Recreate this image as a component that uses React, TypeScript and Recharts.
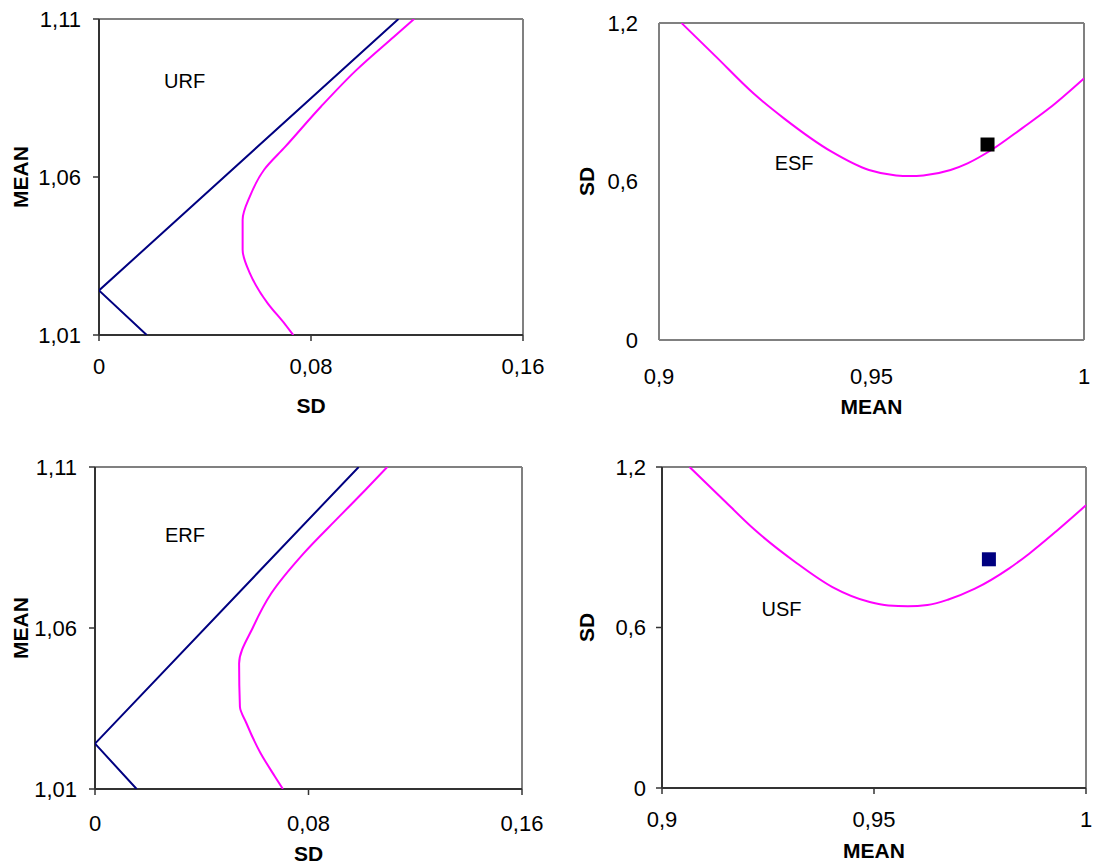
import React from 'react'
import { ScatterChart, Scatter, XAxis, YAxis, ReferenceDot, ReferenceLine } from 'recharts'

const FONT = '"Liberation Sans", Arial, sans-serif'
const NAVY = '#000080'
const MAGENTA = '#ff00ff'
const FRAME = '#808080'
const AXIS = '#333333'

// URF panel (top left): SD on x, MEAN on y
const urfLineSd = [0.018, 0, 0.113]
const urfLineMean = [1.01, 1.0241, 1.11]
const urfCurveSd = [0.0733, 0.0703, 0.0636, 0.0569, 0.0542, 0.0542, 0.0569, 0.0623, 0.0703, 0.0838, 0.0972, 0.1113, 0.1189]
const urfCurveMean = [1.01, 1.0133, 1.0201, 1.0296, 1.037, 1.0465, 1.0538, 1.0623, 1.0696, 1.0823, 1.0939, 1.1044, 1.11]

// ERF panel (bottom left)
const erfLineSd = [0.0156, 0, 0.0988]
const erfLineMean = [1.01, 1.0241, 1.11]
const erfCurveSd = [0.0704, 0.0674, 0.062, 0.0567, 0.0543, 0.054, 0.0593, 0.066, 0.0781, 0.0914, 0.1012, 0.1095]
const erfCurveMean = [1.01, 1.0139, 1.0212, 1.0305, 1.0356, 1.049, 1.0604, 1.0707, 1.0831, 1.0945, 1.1028, 1.11]

// ESF panel (top right): MEAN on x, SD on y
const esfMean = [0.9053, 0.9134, 0.9222, 0.9294, 0.9406, 0.9494, 0.9558, 0.959, 0.9622, 0.9686, 0.9726, 0.9782, 0.9854, 0.9918, 1.0]
const esfSd = [1.2, 1.0726, 0.9338, 0.8391, 0.7129, 0.6435, 0.623, 0.6208, 0.623, 0.6435, 0.6688, 0.7192, 0.8013, 0.877, 0.9905]
const esfPointMean = [0.9773]
const esfPointSd = [0.74]

// USF panel (bottom right)
const usfMean = [0.9065, 0.9138, 0.9218, 0.9314, 0.9402, 0.949, 0.9534, 0.958, 0.9626, 0.9674, 0.9738, 0.9818, 0.9866, 0.993, 1.0]
const usfSd = [1.2, 1.088, 0.966, 0.845, 0.751, 0.695, 0.682, 0.679, 0.684, 0.704, 0.745, 0.82, 0.876, 0.96, 1.057]
const usfPointMean = [0.9771]
const usfPointSd = [0.855]

const rfXTicks = [0, 0.08, 0.16]
const rfYTicks = [1.01, 1.06, 1.11]
const sfXTicks = [0.9, 0.95, 1]
const sfYTicks = [0, 0.6, 1.2]

const zip = (xs: number[], ys: number[]) => xs.map((x, i) => ({ x, y: ys[i] }))
const fmt = (v: number) => String(v).replace('.', ',')

type Series = { data: { x: number; y: number }[]; color: string; joint: any }

type PanelProps = {
  left: number
  top: number
  width: number
  height: number
  margin: { top: number; right: number; bottom: number; left: number }
  yWidth: number
  xHeight: number
  xDomain: [number, number]
  yDomain: [number, number]
  xTicks: number[]
  yTicks: number[]
  xTitle: string
  yTitle: string
  yTitleOffset: number
  tickSize: number
  xTickMargin: number
  yTickMargin: number
  axisColor: string
  series: Series[]
  marker?: { data: { x: number; y: number }[]; color: string }
  tag: { x: number; y: number; text: string }
}

const noDot = () => <g />

function Panel(p: PanelProps) {
  const titleStyle = { fontWeight: 'bold', fontSize: 21, fill: '#000', fontFamily: FONT }
  return (
    <div style={{ position: 'absolute', left: p.left, top: p.top }}>
      <ScatterChart width={p.width} height={p.height} margin={p.margin}>
        {/* plot area frame (top and right) */}
        <ReferenceLine y={p.yDomain[1]} stroke={FRAME} strokeWidth={2} />
        <ReferenceLine x={p.xDomain[1]} stroke={FRAME} strokeWidth={2} />
        <XAxis
          type="number"
          dataKey="x"
          domain={p.xDomain}
          ticks={p.xTicks}
          tickFormatter={fmt}
          allowDataOverflow
          height={p.xHeight}
          tickSize={p.tickSize}
          tickMargin={p.xTickMargin}
          tickLine={p.tickSize > 0 ? { stroke: p.axisColor, strokeWidth: 1.5 } : false}
          axisLine={{ stroke: p.axisColor, strokeWidth: 2 }}
          tick={{ fill: '#000', fontSize: 22, fontFamily: FONT }}
          label={{ value: p.xTitle, position: 'insideBottom', offset: 0, style: titleStyle }}
        />
        <YAxis
          type="number"
          dataKey="y"
          domain={p.yDomain}
          ticks={p.yTicks}
          tickFormatter={fmt}
          allowDataOverflow
          width={p.yWidth}
          tickSize={p.tickSize}
          tickMargin={p.yTickMargin}
          tickLine={p.tickSize > 0 ? { stroke: p.axisColor, strokeWidth: 1.5 } : false}
          axisLine={{ stroke: p.axisColor, strokeWidth: 2 }}
          tick={{ fill: '#000', fontSize: 22, fontFamily: FONT }}
          label={{
            value: p.yTitle,
            angle: -90,
            position: 'insideLeft',
            offset: p.yTitleOffset,
            style: { ...titleStyle, textAnchor: 'middle' },
          }}
        />
        {p.series.map((s, i) => (
          <Scatter
            key={i}
            data={s.data}
            fill={s.color}
            line={{ stroke: s.color, strokeWidth: 2 }}
            lineJointType={s.joint}
            shape={noDot}
            isAnimationActive={false}
          />
        ))}
        {p.marker && (
          <Scatter
            data={p.marker.data}
            fill={p.marker.color}
            shape={(d: any) => <rect x={d.cx - 7} y={d.cy - 7} width={14} height={14} fill={p.marker!.color} />}
            isAnimationActive={false}
          />
        )}
        <ReferenceDot
          x={p.tag.x}
          y={p.tag.y}
          r={0}
          fill="none"
          stroke="none"
          label={{ value: p.tag.text, position: 'center', fontSize: 20, fill: '#000', fontFamily: FONT }}
        />
      </ScatterChart>
    </div>
  )
}

export default function App() {
  return (
    <div
      style={{
        position: 'absolute',
        left: 0,
        top: 0,
        width: 1094,
        height: 866,
        background: '#fff',
        fontFamily: FONT,
      }}
    >
      <Panel
        left={0}
        top={0}
        width={547}
        height={430}
        margin={{ top: 19, right: 24, bottom: 17, left: 0 }}
        yWidth={99}
        xHeight={78}
        xDomain={[0, 0.16]}
        yDomain={[1.01, 1.11]}
        xTicks={rfXTicks}
        yTicks={rfYTicks}
        xTitle="SD"
        yTitle="MEAN"
        yTitleOffset={21}
        tickSize={6}
        xTickMargin={17}
        yTickMargin={12}
        axisColor={AXIS}
        series={[
          { data: zip(urfLineSd, urfLineMean), color: NAVY, joint: 'linear' },
          { data: zip(urfCurveSd, urfCurveMean), color: MAGENTA, joint: 'monotoneY' },
        ]}
        tag={{ x: 0.0323, y: 1.0905, text: 'URF' }}
      />
      <Panel
        left={547}
        top={0}
        width={547}
        height={430}
        margin={{ top: 23, right: 10, bottom: 16, left: 0 }}
        yWidth={112}
        xHeight={74}
        xDomain={[0.9, 1]}
        yDomain={[0, 1.2]}
        xTicks={sfXTicks}
        yTicks={sfYTicks}
        xTitle="MEAN"
        yTitle="SD"
        yTitleOffset={40}
        tickSize={0}
        xTickMargin={28}
        yTickMargin={21}
        axisColor={FRAME}
        series={[{ data: zip(esfMean, esfSd), color: MAGENTA, joint: 'monotoneX' }]}
        marker={{ data: zip(esfPointMean, esfPointSd), color: '#000' }}
        tag={{ x: 0.9318, y: 0.671, text: 'ESF' }}
      />
      <Panel
        left={0}
        top={430}
        width={547}
        height={436}
        margin={{ top: 37, right: 25, bottom: 5, left: 0 }}
        yWidth={95}
        xHeight={72}
        xDomain={[0, 0.16]}
        yDomain={[1.01, 1.11]}
        xTicks={rfXTicks}
        yTicks={rfYTicks}
        xTitle="SD"
        yTitle="MEAN"
        yTitleOffset={21}
        tickSize={6}
        xTickMargin={20}
        yTickMargin={12}
        axisColor={AXIS}
        series={[
          { data: zip(erfLineSd, erfLineMean), color: NAVY, joint: 'linear' },
          { data: zip(erfCurveSd, erfCurveMean), color: MAGENTA, joint: 'monotoneY' },
        ]}
        tag={{ x: 0.0337, y: 1.0888, text: 'ERF' }}
      />
      <Panel
        left={547}
        top={430}
        width={547}
        height={436}
        margin={{ top: 37, right: 8, bottom: 8, left: 0 }}
        yWidth={115}
        xHeight={70}
        xDomain={[0.9, 1]}
        yDomain={[0, 1.2]}
        xTicks={sfXTicks}
        yTicks={sfYTicks}
        xTitle="MEAN"
        yTitle="SD"
        yTitleOffset={40}
        tickSize={6}
        xTickMargin={17}
        yTickMargin={10}
        axisColor={AXIS}
        series={[{ data: zip(usfMean, usfSd), color: MAGENTA, joint: 'monotoneX' }]}
        marker={{ data: zip(usfPointMean, usfPointSd), color: NAVY }}
        tag={{ x: 0.9282, y: 0.67, text: 'USF' }}
      />
    </div>
  )
}
